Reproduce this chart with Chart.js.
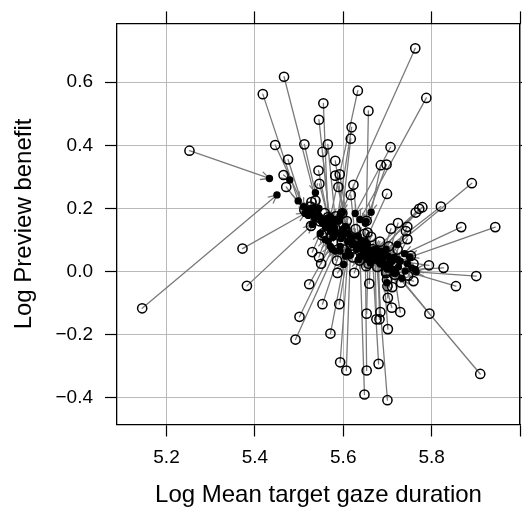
<!DOCTYPE html>
<html>
<head>
<meta charset="utf-8">
<script src="https://cdn.jsdelivr.net/npm/chart.js@4/dist/chart.umd.min.js"></script>
<style>
  html, body { margin: 0; padding: 0; overflow: hidden; background: #fff; }
  #wrap { width: 532px; height: 510px; position: relative; }
</style>
</head>
<body>
<div id="wrap"><canvas id="c"></canvas></div>
<script>
// Raw (per-item) estimates: open circles
const rawDuration = [
  5.763, 5.788, 5.466, 5.418, 5.633, 5.555, 5.657, 5.545, 5.619, 5.617,
  5.446, 5.512, 5.565, 5.707, 5.553, 5.252, 5.475, 5.582, 5.685, 5.698,
  5.544, 5.582, 5.592, 5.465, 5.546, 5.589, 5.623, 5.471, 5.617, 5.699,
  5.891, 5.821, 5.779, 5.772, 5.764, 5.512, 5.653, 5.724, 5.708, 5.745,
  5.742, 5.867, 5.944, 5.555, 5.655, 5.745, 5.372, 5.530, 5.545, 5.550,
  5.586, 5.759, 5.794, 5.827, 5.901, 5.587, 5.625, 5.652, 5.697, 5.699,
  5.759, 5.731, 5.855, 5.382, 5.523, 5.659, 5.700, 5.711, 5.701, 5.553,
  5.591, 5.710, 5.729, 5.795, 5.145, 5.653, 5.684, 5.501, 5.675, 5.682,
  5.701, 5.492, 5.571, 5.593, 5.607, 5.653, 5.680, 5.648, 5.700, 5.910,
  5.605, 5.634, 5.548, 5.666, 5.695, 5.526,
  5.528, 5.527, 5.558, 5.552, 5.583, 5.577, 5.603, 5.608, 5.602, 5.628,
  5.622, 5.648, 5.637, 5.663, 5.657, 5.683, 5.677, 5.703, 5.697, 5.723,
  5.717, 5.753, 5.747, 5.598, 5.537,
  5.532, 5.543, 5.566, 5.582, 5.602, 5.618, 5.642, 5.662, 5.678
];
const rawBenefit = [
  0.707, 0.550, 0.617, 0.562, 0.573, 0.533, 0.509, 0.481, 0.457, 0.421,
  0.401, 0.403, 0.403, 0.394, 0.379, 0.383, 0.355, 0.351, 0.337, 0.339,
  0.320, 0.304, 0.308, 0.306, 0.278, 0.268, 0.275, 0.268, 0.243, 0.246,
  0.280, 0.206, 0.204, 0.199, 0.187, 0.195, 0.161, 0.154, 0.136, 0.142,
  0.128, 0.141, 0.141, 0.122, 0.124, 0.103, 0.073, 0.062, 0.046, 0.025,
  0.035, 0.025, 0.020, 0.012, -0.014, -0.004, -0.004, 0.017, 0.000, -0.025,
  -0.030, -0.035, -0.046, -0.045, -0.040, -0.038, -0.046, -0.049, -0.083, -0.103,
  -0.103, -0.114, -0.128, -0.133, -0.116, -0.133, -0.128, -0.143, -0.151, -0.151,
  -0.182, -0.215, -0.196, -0.287, -0.313, -0.313, -0.292, -0.389, -0.407, -0.324,
  0.134, 0.096, 0.159, 0.071, 0.039, 0.206,
  0.220, 0.145, 0.185, 0.115, 0.175, 0.095, 0.130, 0.160, 0.070, 0.135,
  0.045, 0.120, 0.035, 0.110, 0.025, 0.095, 0.015, 0.080, -0.005, 0.070,
  -0.010, 0.050, -0.013, 0.185, 0.225,
  0.193, 0.172, 0.173, 0.137, 0.118, 0.082, 0.078, 0.063, 0.052
];
// Shrunken (model) estimates: filled dots
const shrunkDuration = [
  5.593, 5.638, 5.543, 5.498, 5.571, 5.566, 5.652, 5.571, 5.582, 5.598,
  5.510, 5.537, 5.582, 5.627, 5.571, 5.433, 5.514, 5.605, 5.663, 5.650,
  5.571, 5.611, 5.616, 5.479, 5.577, 5.620, 5.634, 5.521, 5.629, 5.650,
  5.723, 5.697, 5.684, 5.679, 5.672, 5.530, 5.643, 5.702, 5.688, 5.706,
  5.711, 5.739, 5.751, 5.577, 5.650, 5.722, 5.514, 5.548, 5.559, 5.566,
  5.593, 5.729, 5.727, 5.763, 5.765, 5.601, 5.635, 5.643, 5.700, 5.699,
  5.733, 5.718, 5.740, 5.530, 5.571, 5.661, 5.699, 5.706, 5.695, 5.593,
  5.611, 5.684, 5.715, 5.713, 5.450, 5.656, 5.679, 5.575, 5.672, 5.679,
  5.690, 5.582, 5.605, 5.611, 5.616, 5.650, 5.666, 5.638, 5.675, 5.718,
  5.600, 5.627, 5.553, 5.661, 5.690, 5.528,
  5.520, 5.535, 5.550, 5.560, 5.575, 5.585, 5.595, 5.600, 5.610, 5.620,
  5.630, 5.640, 5.645, 5.655, 5.665, 5.675, 5.685, 5.695, 5.705, 5.715,
  5.725, 5.745, 5.755, 5.590, 5.545,
  5.530, 5.545, 5.565, 5.580, 5.600, 5.620, 5.640, 5.660, 5.680
];
const shrunkBenefit = [
  0.178, 0.165, 0.197, 0.224, 0.175, 0.153, 0.159, 0.143, 0.128, 0.187,
  0.206, 0.250, 0.165, 0.184, 0.128, 0.295, 0.184, 0.143, 0.188, 0.153,
  0.134, 0.121, 0.102, 0.290, 0.109, 0.096, 0.112, 0.178, 0.083, 0.096,
  0.086, 0.071, 0.065, 0.058, 0.071, 0.181, 0.077, 0.049, 0.049, 0.039,
  0.033, 0.057, 0.046, 0.115, 0.071, 0.039, 0.185, 0.121, 0.102, 0.096,
  0.080, 0.033, 0.033, 0.007, -0.001, 0.023, 0.038, 0.049, 0.023, 0.008,
  -0.021, 0.002, 0.002, 0.149, 0.080, 0.027, -0.035, 0.008, 0.017, 0.065,
  0.065, 0.024, -0.005, 0.008, 0.243, 0.039, 0.033, 0.071, 0.039, 0.046,
  0.027, 0.065, 0.049, 0.058, 0.052, 0.049, 0.049, 0.049, 0.039, -0.005,
  0.118, 0.087, 0.153, 0.065, 0.039, 0.200,
  0.195, 0.170, 0.160, 0.140, 0.150, 0.120, 0.105, 0.135, 0.095, 0.110,
  0.070, 0.095, 0.060, 0.085, 0.050, 0.070, 0.040, 0.055, 0.020, 0.045,
  0.015, 0.025, 0.012, 0.160, 0.200,
  0.190, 0.175, 0.170, 0.140, 0.115, 0.085, 0.075, 0.060, 0.055
];

// Axis ticks and labels
const xTickValues = [5.2, 5.4, 5.6, 5.8, 6.0];
const xTickLabels = ['5.2', '5.4', '5.6', '5.8', ''];
const yTickValues = [-0.4, -0.2, 0.0, 0.2, 0.4, 0.6];
const yTickLabels = ['\u22120.4', '\u22120.2', '0.0', '0.2', '0.4', '0.6'];
const xRange = [5.088, 6.0];
const yRange = [-0.484, 0.786];

const FONT = 'Liberation Sans, Arial, Helvetica, sans-serif';
const GRID = '#bababa';
const ARROW = '#7a7a7a';

const rawPoints = rawDuration.map((x, i) => ({ x, y: rawBenefit[i] }));
const shrunkPoints = shrunkDuration.map((x, i) => ({ x, y: shrunkBenefit[i] }));

// Arrows from each raw estimate to its shrunken estimate
const arrowPlugin = {
  id: 'shrinkArrows',
  beforeDatasetsDraw(chart) {
    const { ctx, chartArea: a, scales: { x, y } } = chart;
    ctx.save();
    ctx.beginPath();
    ctx.rect(a.left, a.top, a.right - a.left, a.bottom - a.top);
    ctx.clip();
    ctx.strokeStyle = ARROW;
    ctx.lineWidth = 1.3;
    ctx.lineCap = 'round';
    const head = 9, spread = Math.PI / 7;
    for (let i = 0; i < rawPoints.length; i++) {
      const x0 = x.getPixelForValue(rawPoints[i].x);
      const y0 = y.getPixelForValue(rawPoints[i].y);
      const x1 = x.getPixelForValue(shrunkPoints[i].x);
      const y1 = y.getPixelForValue(shrunkPoints[i].y);
      ctx.beginPath();
      ctx.moveTo(x0, y0);
      ctx.lineTo(x1, y1);
      if (Math.hypot(x1 - x0, y1 - y0) > 1) {
        const ang = Math.atan2(y1 - y0, x1 - x0);
        ctx.moveTo(x1 - head * Math.cos(ang - spread), y1 - head * Math.sin(ang - spread));
        ctx.lineTo(x1, y1);
        ctx.lineTo(x1 - head * Math.cos(ang + spread), y1 - head * Math.sin(ang + spread));
      }
      ctx.stroke();
    }
    ctx.restore();
  }
};

const setTicks = (values) => (scale) => { scale.ticks = values.map(v => ({ value: v })); };

new Chart(document.getElementById('c'), {
  type: 'scatter',
  data: {
    datasets: [
      {
        label: 'shrunk',
        data: shrunkPoints,
        order: 0,
        pointRadius: 3.7,
        pointBackgroundColor: '#000',
        pointBorderWidth: 0,
        pointHoverRadius: 3.7
      },
      {
        label: 'raw',
        data: rawPoints,
        order: 1,
        pointRadius: 4.6,
        pointBorderColor: '#000',
        pointBorderWidth: 1.5,
        pointBackgroundColor: 'rgba(0,0,0,0)',
        pointHoverRadius: 4.6
      }
    ]
  },
  options: {
    responsive: true,
    maintainAspectRatio: false,
    animation: false,
    events: [],
    layout: { padding: { top: 9, left: 0, right: 0, bottom: 0 } },
    plugins: { legend: { display: false }, tooltip: { enabled: false } },
    scales: {
      x: {
        type: 'linear', position: 'bottom', min: xRange[0], max: xRange[1],
        afterBuildTicks: setTicks(xTickValues),
        afterFit: (s) => { s.height = 85.5; },
        grid: { color: GRID, lineWidth: 1, tickColor: '#000', tickLength: 12, tickWidth: 1.2 },
        border: { display: true, color: '#000', width: 1.3 },
        ticks: {
          color: '#000', font: { family: FONT, size: 19 }, padding: 10,
          maxRotation: 0, autoSkip: false,
          callback: (v, i) => xTickLabels[i]
        },
        title: {
          display: true, text: 'Log Mean target gaze duration', color: '#000',
          font: { family: FONT, size: 24 }, padding: { top: 0, bottom: 0 }
        }
      },
      x2: {
        type: 'linear', position: 'top', min: xRange[0], max: xRange[1],
        afterBuildTicks: setTicks(xTickValues),
        afterFit: (s) => { s.height = 12; },
        grid: { drawOnChartArea: false, tickColor: '#000', tickLength: 12, tickWidth: 1.2 },
        border: { display: true, color: '#000', width: 1.3 },
        ticks: { display: false }
      },
      y: {
        type: 'linear', position: 'left', min: yRange[0], max: yRange[1],
        afterBuildTicks: setTicks(yTickValues),
        afterFit: (s) => { s.width = 117; },
        grid: { color: GRID, lineWidth: 1, tickColor: '#000', tickLength: 12, tickWidth: 1.2 },
        border: { display: true, color: '#000', width: 1.3 },
        ticks: {
          color: '#000', font: { family: FONT, size: 19 }, padding: 12,
          autoSkip: false,
          callback: (v, i) => yTickLabels[i]
        },
        title: {
          display: true, text: 'Log Preview benefit', color: '#000',
          font: { family: FONT, size: 24 }, padding: { top: 10, bottom: 0 }
        }
      },
      y2: {
        type: 'linear', position: 'right', min: yRange[0], max: yRange[1],
        afterBuildTicks: setTicks(yTickValues),
        afterFit: (s) => { s.width = 12; },
        grid: { drawOnChartArea: false, tickColor: '#000', tickLength: 12, tickWidth: 1.2 },
        border: { display: true, color: '#000', width: 1.3 },
        ticks: { display: false }
      }
    }
  },
  plugins: [arrowPlugin]
});
</script>
</body>
</html>
